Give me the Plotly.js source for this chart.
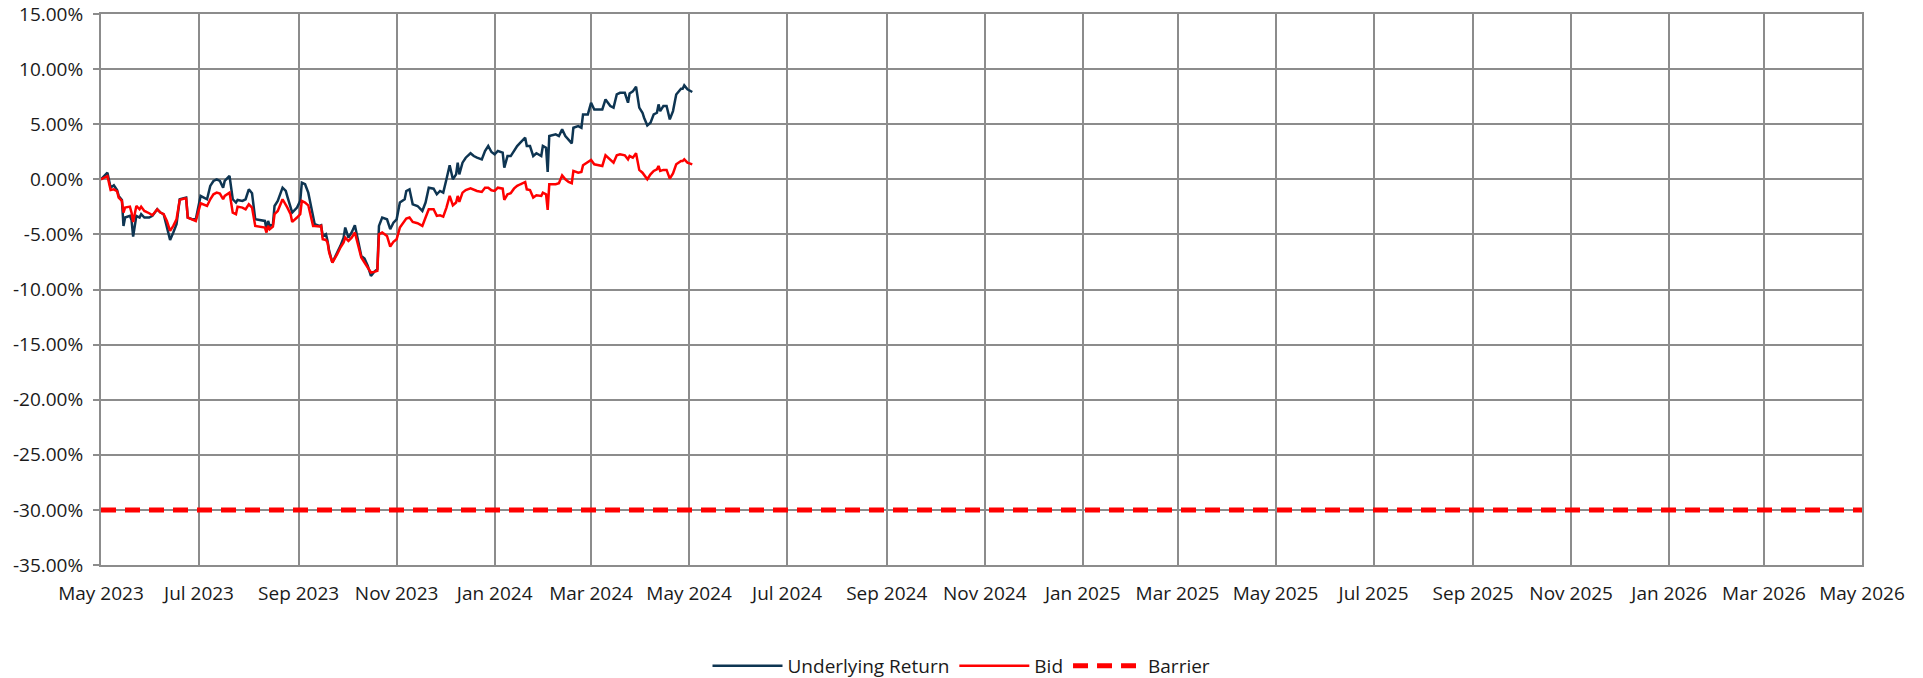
<!DOCTYPE html>
<html>
<head>
<meta charset="utf-8">
<script src="https://cdn.plot.ly/plotly-3.0.1.min.js"></script>
<style>html,body{margin:0;padding:0;background:#fff;}#chart{width:1923px;height:678px;}</style>
</head>
<body>
<div id="chart"></div>
<script>
const dates = [
"2023-05-01","2023-05-05","2023-05-07","2023-05-09","2023-05-11","2023-05-12","2023-05-14","2023-05-15","2023-05-16","2023-05-19",
"2023-05-20","2023-05-21","2023-05-23","2023-05-25","2023-05-26","2023-05-28","2023-05-31","2023-06-02","2023-06-05","2023-06-07",
"2023-06-09","2023-06-11","2023-06-13","2023-06-15","2023-06-17","2023-06-19","2023-06-22","2023-06-23","2023-06-24","2023-06-27",
"2023-06-29","2023-07-02","2023-07-04","2023-07-06","2023-07-08","2023-07-10","2023-07-12","2023-07-14","2023-07-16","2023-07-17",
"2023-07-20","2023-07-22","2023-07-24","2023-07-25","2023-07-28","2023-07-30","2023-08-01","2023-08-03","2023-08-05","2023-08-08",
"2023-08-11","2023-08-12","2023-08-13","2023-08-14","2023-08-16","2023-08-17","2023-08-19","2023-08-22","2023-08-24","2023-08-25",
"2023-08-27","2023-08-28","2023-08-31","2023-09-02","2023-09-03","2023-09-05","2023-09-07","2023-09-08","2023-09-10","2023-09-11",
"2023-09-14","2023-09-15","2023-09-16","2023-09-18","2023-09-19","2023-09-20","2023-09-22","2023-09-25","2023-09-27","2023-09-29",
"2023-09-30","2023-10-02","2023-10-04","2023-10-06","2023-10-08","2023-10-10","2023-10-12","2023-10-14","2023-10-16","2023-10-18",
"2023-10-20","2023-10-21","2023-10-23","2023-10-26","2023-10-28","2023-10-30","2023-11-01","2023-11-03","2023-11-06","2023-11-07",
"2023-11-09","2023-11-11","2023-11-14","2023-11-17","2023-11-19","2023-11-21","2023-11-24","2023-11-26","2023-11-28","2023-11-30",
"2023-12-02","2023-12-04","2023-12-06","2023-12-08","2023-12-09","2023-12-10","2023-12-12","2023-12-14","2023-12-17","2023-12-19",
"2023-12-21","2023-12-24","2023-12-26","2023-12-28","2023-12-30","2024-01-01","2024-01-03","2024-01-06","2024-01-07","2024-01-09",
"2024-01-11","2024-01-13","2024-01-15","2024-01-17","2024-01-20","2024-01-21","2024-01-23","2024-01-25","2024-01-27","2024-01-30",
"2024-01-31","2024-02-02","2024-02-03","2024-02-04","2024-02-08","2024-02-10","2024-02-12","2024-02-14","2024-02-16","2024-02-18",
"2024-02-19","2024-02-22","2024-02-24","2024-02-25","2024-02-28","2024-03-01","2024-03-03","2024-03-07","2024-03-08","2024-03-10",
"2024-03-13","2024-03-15","2024-03-17","2024-03-19","2024-03-22","2024-03-24","2024-03-25","2024-03-27","2024-03-29","2024-03-31",
"2024-04-02","2024-04-03","2024-04-05","2024-04-07","2024-04-09","2024-04-11","2024-04-12","2024-04-13","2024-04-15","2024-04-17",
"2024-04-19","2024-04-21","2024-04-23","2024-04-26","2024-04-27","2024-04-28","2024-04-30","2024-05-03"
];

const underlyingReturn = [
0,0.60,-0.76,-0.54,-0.97,-1.51,-1.87,-4.23,-3.47,-3.32,
-3.69,-5.20,-3.32,-3.47,-3.17,-3.47,-3.47,-3.32,-2.72,-3.02,
-3.17,-4.23,-5.50,-4.83,-4.08,-1.81,-1.72,-1.66,-3.47,-3.63,
-3.63,-1.51,-1.66,-1.81,-0.60,-0.15,0,-0.15,-0.76,-0.15,
0.30,-1.81,-2.11,-1.87,-1.96,-1.81,-0.91,-1.27,-3.63,-3.72,
-3.78,-4.53,-3.78,-4.23,-4.08,-2.42,-1.96,-0.76,-1.06,-1.57,
-2.42,-3.02,-2.57,-1.96,-0.30,-0.45,-1.21,-1.96,-3.47,-4.08,
-4.23,-4.17,-5.14,-4.98,-5.59,-6.50,-7.55,-6.65,-6.04,-5.29,
-4.38,-5.29,-4.83,-4.17,-5.44,-6.95,-7.19,-7.85,-8.76,-8.40,
-8.16,-4.23,-3.47,-3.63,-4.53,-3.93,-3.63,-2.11,-1.81,-1.06,
-0.91,-2.27,-2.42,-2.87,-2.11,-0.76,-0.85,-1.36,-1.06,-1.21,
0,1.27,0,0.45,1.51,0.45,1.51,1.96,2.36,2.11,
1.96,1.81,2.57,3.02,2.48,2.27,2.57,2.42,1.06,2.11,
2.11,2.57,3.02,3.32,3.78,3.02,3.02,2.11,2.36,2.11,
3.02,2.87,0.66,3.93,4.08,3.93,4.53,3.93,3.63,3.26,
4.68,4.83,4.68,5.89,5.89,6.95,6.34,6.34,6.34,7.25,
6.65,6.50,7.70,7.85,7.85,6.95,7.79,7.98,8.40,6.50,
6.04,5.59,4.89,5.14,5.89,6.04,6.80,6.19,6.65,6.65,
5.44,6.19,7.70,8.22,8.22,8.52,8.16,7.92
];

const bid = [
0,0.30,-0.97,-0.91,-1.09,-1.66,-1.96,-3.02,-2.57,-2.48,
-3.02,-3.87,-2.42,-2.72,-2.48,-2.87,-3.08,-3.26,-2.72,-3.02,
-3.17,-3.78,-4.68,-4.23,-3.63,-1.87,-1.75,-1.75,-3.47,-3.63,
-3.78,-2.18,-2.27,-2.42,-1.81,-1.36,-1.21,-1.30,-1.81,-1.51,
-1.21,-3.02,-3.17,-2.48,-2.57,-2.72,-2.27,-2.57,-4.23,-4.29,
-4.38,-4.83,-4.23,-4.53,-4.29,-3.17,-2.87,-1.81,-2.27,-2.57,
-3.17,-3.87,-3.47,-3.17,-1.96,-2.11,-2.36,-3.08,-4.23,-4.23,
-4.29,-4.23,-5.44,-5.50,-5.74,-6.65,-7.55,-6.80,-6.19,-5.74,
-5.29,-5.59,-5.29,-4.83,-6.04,-7.10,-7.55,-8.01,-8.46,-8.40,
-8.31,-4.98,-4.83,-5.14,-6.10,-5.68,-5.44,-4.38,-3.69,-3.56,
-3.47,-3.87,-3.99,-4.23,-3.47,-2.72,-2.72,-3.32,-3.26,-3.38,
-2.57,-1.51,-2.36,-2.11,-1.51,-2.05,-1.21,-0.97,-0.82,-0.97,
-1.06,-1.15,-0.76,-0.76,-1.00,-1.06,-0.76,-0.85,-1.87,-1.36,
-1.27,-0.85,-0.60,-0.45,-0.24,-0.91,-0.97,-1.66,-1.45,-1.51,
-1.21,-1.36,-2.78,-0.45,-0.45,-0.36,0.36,0,-0.24,-0.36,
0.76,0.60,0.66,1.27,1.57,1.75,1.36,1.27,1.21,2.18,
1.75,1.51,2.18,2.27,2.18,1.81,2.11,1.96,2.36,0.85,
0.60,0.36,0,0.45,0.76,0.91,1.21,0.76,0.85,0.85,
0.06,0.54,1.36,1.66,1.66,1.81,1.51,1.36
];

const barrierDates = ["2023-05-01","2026-05-01"];
const barrier = [-30,-30];

const xTickVals = ["2023-05-01","2023-07-01","2023-09-01","2023-11-01","2024-01-01","2024-03-01","2024-05-01",
"2024-07-01","2024-09-01","2024-11-01","2025-01-01","2025-03-01","2025-05-01","2025-07-01","2025-09-01",
"2025-11-01","2026-01-01","2026-03-01","2026-05-01"];
const xTickText = ["May 2023","Jul 2023","Sep 2023","Nov 2023","Jan 2024","Mar 2024","May 2024",
"Jul 2024","Sep 2024","Nov 2024","Jan 2025","Mar 2025","May 2025","Jul 2025","Sep 2025",
"Nov 2025","Jan 2026","Mar 2026","May 2026"];
const yTickVals = [-35,-30,-25,-20,-15,-10,-5,0,5,10,15];
const yTickText = ["-35.00%","-30.00%","-25.00%","-20.00%","-15.00%","-10.00%","-5.00%","0.00%","5.00%","10.00%","15.00%"];

const FONT = "'Open Sans', 'Noto Sans', sans-serif";
const GRID = "#8c8c8c";

const traces = [
  {x: dates, y: underlyingReturn, name: "Underlying Return", type: "scatter", mode: "lines",
   line: {color: "#0e3552", width: 2.5}},
  {x: dates, y: bid, name: "Bid", type: "scatter", mode: "lines",
   line: {color: "#ff0000", width: 2.5}},
  {x: barrierDates, y: barrier, name: "Barrier", type: "scatter", mode: "lines",
   line: {color: "#ff0000", width: 5, dash: "15px,9px"}}
];

const layout = {
  width: 1923, height: 678,
  margin: {l: 101, r: 61, t: 14, b: 113, pad: 0},
  paper_bgcolor: "#fff", plot_bgcolor: "#fff",
  font: {family: FONT, size: 19, color: "#1a1a1a"},
  showlegend: true,
  legend: {orientation: "h", xref: "container", yref: "container", x: 0.5, xanchor: "center",
           y: 0.018, yanchor: "middle", font: {family: FONT, size: 19, color: "#1a1a1a"},
           traceorder: "normal", itemwidth: 70},
  xaxis: {type: "date", range: ["2023-05-01","2026-05-01"], tickmode: "array",
          tickvals: xTickVals, ticktext: xTickText, showgrid: true, gridcolor: GRID, gridwidth: 2,
          showline: true, linecolor: GRID, linewidth: 2, mirror: true, ticks: "", zeroline: false,
          ticklabelstandoff: 10, tickangle: 0, fixedrange: true},
  yaxis: {range: [-35, 15], tickmode: "array", tickvals: yTickVals, ticktext: yTickText,
          showgrid: true, gridcolor: GRID, gridwidth: 2, showline: true, linecolor: GRID, linewidth: 2,
          mirror: true, ticks: "outside", ticklen: 6, tickcolor: GRID, tickwidth: 2, zeroline: false,
          ticklabelstandoff: 6, fixedrange: true},
  hovermode: false
};

Plotly.newPlot("chart", traces, layout, {displayModeBar: false, staticPlot: true});
</script>
</body>
</html>
